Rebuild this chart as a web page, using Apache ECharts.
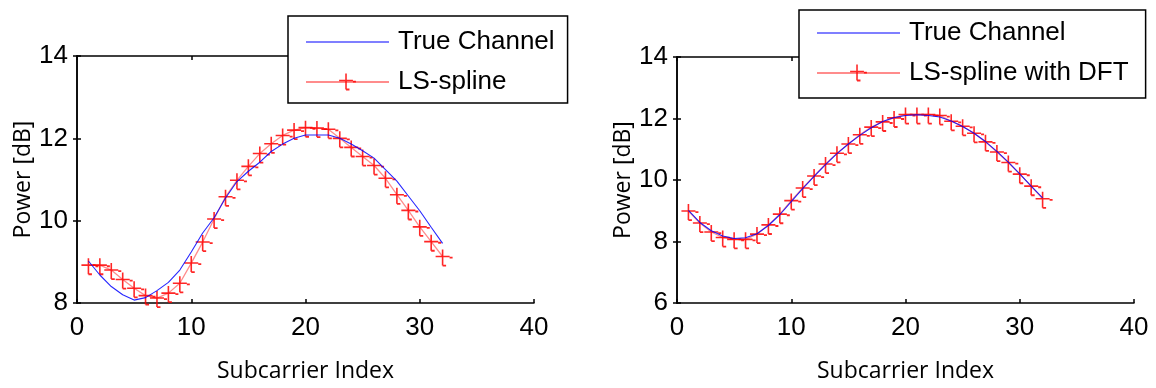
<!DOCTYPE html>
<html><head><meta charset="utf-8">
<script src="https://cdn.jsdelivr.net/npm/echarts@6/dist/echarts.min.js"></script>
<style>html,body{margin:0;padding:0;background:#fff}#c{width:1156px;height:388px}</style>
</head><body><div id="c"></div>
<script>
// ---- data ----
const subcarriers = [1,2,3,4,5,6,7,8,9,10,11,12,13,14,15,16,17,18,19,20,21,22,23,24,25,26,27,28,29,30,31,32];
const trueChannelLeft = [9.02,8.68,8.40,8.20,8.07,8.13,8.30,8.50,8.80,9.24,9.70,10.07,10.55,10.95,11.20,11.42,11.68,11.86,12.00,12.08,12.08,12.08,12.00,11.86,11.70,11.52,11.24,10.96,10.60,10.24,9.84,9.45];
const lsSpline = [8.92,8.92,8.80,8.57,8.36,8.18,8.12,8.24,8.48,8.97,9.48,10.04,10.58,10.98,11.32,11.63,11.87,12.07,12.20,12.26,12.25,12.22,12.00,11.78,11.56,11.34,11.03,10.63,10.25,9.85,9.49,9.13];
const trueChannelRight = [9.01,8.62,8.35,8.18,8.10,8.12,8.25,8.52,8.87,9.30,9.72,10.12,10.50,10.86,11.17,11.45,11.70,11.90,12.03,12.10,12.12,12.10,12.05,11.92,11.74,11.52,11.25,10.93,10.58,10.20,9.80,9.42];
const lsSplineDft = [8.99,8.60,8.31,8.13,8.07,8.07,8.24,8.54,8.89,9.33,9.74,10.13,10.52,10.87,11.17,11.47,11.72,11.89,12.02,12.13,12.13,12.13,12.10,11.91,11.75,11.52,11.24,10.91,10.57,10.19,9.80,9.39];
const xTicks = [0,10,20,30,40];
const yTicksLeft = [8,10,12,14];
const yTicksRight = [6,8,10,12,14];
const legendLeft = ['True Channel','LS-spline'];
const legendRight = ['True Channel','LS-spline with DFT'];
const xName = 'Subcarrier Index';
const yName = 'Power [dB]';

const pairs = ys => subcarriers.map((x,i)=>[x, ys[i]]);
const MARK = 'path://M0,6.2H14V7.8H0Z M6.2,0H7.8V16H6.2Z M7,15.2H10.5V17H7Z M14,7.2H17V9H14Z';
const LINE_ICON = 'path://M0,0H0.01V0.01H0Z M0,10H83V11H0Z M82.99,20.99H83V21H82.99Z';
const tickFont = {fontFamily:'Liberation Sans, Arial', fontSize:26, color:'#000'};
const nameFont = {fontFamily:'Open Sans', fontSize:23, color:'#000'};
const axLine = {show:true, lineStyle:{color:'#000', width:1.5}};
const tick = {show:true, inside:true, length:4, lineStyle:{color:'#000', width:1.5}};

function xAxes(gi){
  return [
    {type:'value', gridIndex:gi, min:xTicks[0], max:xTicks[xTicks.length-1], interval:10, position:'bottom',
     axisLine:axLine, axisTick:tick, splitLine:{show:false}, axisLabel:Object.assign({margin:12}, tickFont),
     name:xName, nameLocation:'middle', nameGap:57, nameTextStyle:nameFont},
    {type:'value', gridIndex:gi, min:xTicks[0], max:xTicks[xTicks.length-1], interval:10, position:'top',
     axisLine:axLine, axisTick:tick, splitLine:{show:false}, axisLabel:{show:false}}
  ];
}
function yAxes(gi, ticks){
  return [
    {type:'value', gridIndex:gi, min:ticks[0], max:ticks[ticks.length-1], interval:2, position:'left',
     axisLine:axLine, axisTick:tick, splitLine:{show:false}, axisLabel:Object.assign({margin:9}, tickFont),
     name:yName, nameLocation:'middle', nameGap:41, nameRotate:90, nameTextStyle:nameFont},
    {type:'value', gridIndex:gi, min:ticks[0], max:ticks[ticks.length-1], interval:2, position:'right',
     axisLine:axLine, axisTick:tick, splitLine:{show:false}, axisLabel:{show:false}}
  ];
}
function legend(names, left, top, pad){
  return {data:[{name:names[0], icon:LINE_ICON}, {name:names[1]}], orient:'vertical', left:left, top:top, padding:pad, itemGap:10,
    itemWidth:83, itemHeight:21, backgroundColor:'#fff', borderColor:'#000', borderWidth:1.5,
    textStyle:Object.assign({lineHeight:30, padding:[0,0,0,4]}, tickFont), selectedMode:false, z:10};
}
function redSeries(name, xi, yi, ys){
  return {name:name, type:'line', xAxisIndex:xi, yAxisIndex:yi, data:pairs(ys),
    symbol:MARK, symbolSize:[17,17], symbolOffset:[1.5,1.5], showSymbol:true,
    itemStyle:{color:'rgba(255,0,0,0.85)'}, lineStyle:{color:'#ff8c8c', width:1.3}, z:2, animation:false};
}
function blueSeries(name, xi, yi, ys){
  return {name:name, type:'line', xAxisIndex:xi, yAxisIndex:yi, data:pairs(ys), symbol:'none',
    itemStyle:{color:'#0000ff'}, lineStyle:{color:'rgba(0,0,255,0.85)', width:1.1}, z:3, animation:false};
}

const option = {
  animation:false,
  backgroundColor:'#fff',
  grid:[{left:77, right:622, top:56, bottom:83}, {left:677, right:22, top:57, bottom:83}],
  xAxis:[...xAxes(0), ...xAxes(1)],
  yAxis:[...yAxes(0, yTicksLeft), ...yAxes(1, yTicksRight)],
  legend:[legend(legendLeft, 288, 16, [11,13,6,17]), legend(legendRight, 799, 10, [8,17,10,17])],
  series:[
    redSeries('LS-spline', 0, 0, lsSpline),
    blueSeries('True Channel', 0, 0, trueChannelLeft),
    redSeries('LS-spline with DFT', 2, 2, lsSplineDft),
    blueSeries('True Channel', 2, 2, trueChannelRight)
  ]
};
const chart = echarts.init(document.getElementById('c'), null, {renderer:'canvas'});
chart.setOption(option);
</script></body></html>
